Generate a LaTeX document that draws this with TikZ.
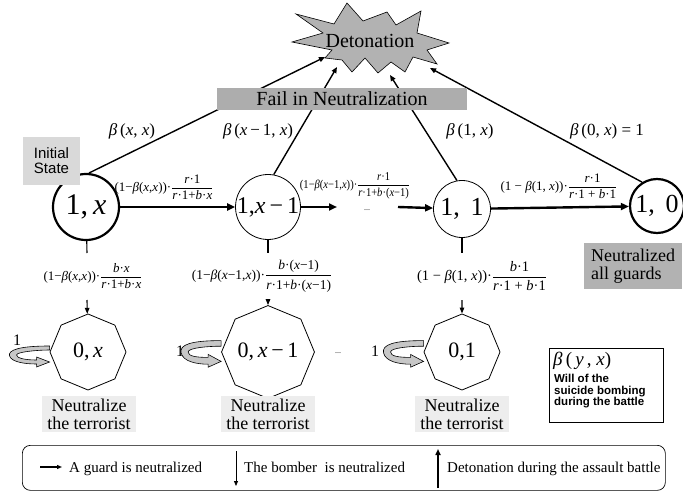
\documentclass[tikz,border=0pt]{standalone}
\usepackage{fontspec}
\setmainfont{Liberation Serif}
\setsansfont{Liberation Sans}
\usetikzlibrary{arrows.meta,shapes.geometric,calc}
\newcommand\fr[2]{$\displaystyle\frac{\hbox{#1}}{\hbox{#2}}$}
\newcommand\mi[1]{\textit{#1}}
\newcommand\fs[1]{\fontsize{#1}{#1}\selectfont}
\begin{document}
\begin{tikzpicture}[x=1pt,y=-1pt,
  state/.style={circle,draw,fill=white,inner sep=0pt,line width=0.8pt},
  bigstate/.style={state,line width=2.2pt},
  octa/.style={regular polygon,regular polygon sides=8,shape border rotate=22.5,draw,fill=white,minimum size=76pt,inner sep=0pt,line width=0.8pt},
  tostar/.style={line width=1.4pt,-{Triangle[length=6pt,width=5pt]}},
  hor/.style={line width=2.4pt,-{Triangle[length=8pt,width=7pt]}},
  down/.style={line width=1.1pt,-{Triangle[length=6pt,width=4.5pt]}},
  lab/.style={inner sep=0pt,font=\fs{13}},
  blab/.style={inner sep=0pt,font=\fs{17}},
  neut/.style={fill=black!7,inner xsep=5pt,inner ysep=3pt,align=center,font=\fs{18}},
  loopar/.style={fill=black!22,draw=black,line width=0.6pt},
  keyt/.style={anchor=base west,inner sep=0pt,font=\fs{15}}]
\useasboundingbox (0,0) rectangle (683,492);

% star
\draw[fill=black!30,line width=0.6pt] (292,42) -- (323,33) -- (296,14) -- (334,24) -- (347,3) -- (363,21) -- (387,12) -- (396,25) -- (421,11) -- (417,33) -- (449,43) -- (427,50) -- (437,64) -- (413,57) -- (405,72) -- (391,62) -- (378,73) -- (365,58) -- (352,72) -- (342,60) -- (325,58) -- (332,50) -- cycle;
\node[inner sep=0pt,font=\fs{20}] (det) at (370,41) {Detonation};
\coordinate (d1) at (325,57);
\coordinate (d2) at (337,67);
\coordinate (d3) at (390,75);
\coordinate (d4) at (430,68);

% states
\node[bigstate,minimum size=66pt] (s1) at (86,207) {\fs{30}1,\,\mi{x}};
\node[state,minimum size=60pt] (s2) at (268,207) {\fs{24}1,\mi{x}\,−\,1};
\node[state,minimum size=57pt] (s3) at (462,209) {\fs{26}1,\, 1};
\node[bigstate,minimum size=54pt] (s4) at (657,206) {\fs{26}1,\, 0};
\node[fill=black!15,inner sep=0pt,minimum width=57pt,minimum height=48pt,align=left,font=\sffamily\fs{15}] (init) at (51.5,161) {Initial\\State};

% lines to detonation
\draw[tostar] (s1.85) -- (d1);
\draw[tostar] (s2.80) -- (d2);
\draw[tostar] (s3.100) -- (d3);
\draw[tostar] (s4.122) -- (d4);
\node[fill=black!32,minimum width=250pt,minimum height=22pt,inner sep=0pt,font=\fs{20}] (fail) at (342,99) {Fail in Neutralization};

\node[blab] (b1) at (132,131) {\mi{β}\,(\mi{x}, \mi{x})};
\node[blab] (b2) at (258,131) {\mi{β}\,(\mi{x}\,−\,1, \mi{x})};
\node[blab] (b3) at (470,131) {\mi{β}\,(1, \mi{x})};
\node[blab] (b4) at (607,131) {\mi{β}\,(0, \mi{x}) = 1};

% horizontal transitions
\coordinate (m1) at (337,207);
\coordinate (m2) at (398,207);
\draw[hor] (s1) -- (s2);
\draw[hor] (s2) -- (m1);
\draw[hor] (m2) -- (s3);
\draw[hor] (s3) -- (s4);
\node[lab] (l1) at (164,187) {(1−\mi{β}(\mi{x},\mi{x}))·\fr{\mi{r}·1}{\mi{r}·1+\mi{b}·\mi{x}}};
\node[lab,font=\fs{12},xscale=0.88] (l2) at (355,186) {(1−\mi{β}(\mi{x}−1,\mi{x}))·\fr{\mi{r}·1}{\mi{r}·1+\mi{b}·(\mi{x}−1)}};
\node[inner sep=0pt,font=\fs{8}] (dots1) at (367,210) {...};
\node[lab] (l3) at (559,186) {(1 − \mi{β}(1, \mi{x}))·\fr{\mi{r}·1}{\mi{r}·1 + \mi{b}·1}};

% octagons
\node[octa] (o1) at (88,352) {\fs{22}0,\,\mi{x}};
\node[octa] (o2) at (268,352) {\fs{22}0,\,\mi{x}\,−\,1};
\node[octa] (o3) at (462,352) {\fs{22}0,1};
\node[inner sep=0pt,font=\fs{8}] (dots2) at (338,353) {...};

% vertical transitions
\foreach \s/\o/\lb/\x in {s1/o1/v1/87,s2/o2/v2/268,s3/o3/v3/462}{
  \coordinate (\lb a) at (\x,253);
  \coordinate (\lb b) at (\x,300);
  \draw[line width=1.1pt] (\s) -- (\lb a);
  \draw[down] (\lb b) -- (\o);
}
\node[lab] (l4) at (93,276) {(1−\mi{β}(\mi{x},\mi{x}))·\fr{\mi{b}·\mi{x}}{\mi{r}·1+\mi{b}·\mi{x}}};
\node[lab,font=\fs{13.5}] (l5) at (262,276) {(1−\mi{β}(\mi{x}−1,\mi{x}))·\fr{\mi{b}·(\mi{x}−1)}{\mi{r}·1+\mi{b}·(\mi{x}−1)}};
\node[lab,font=\fs{14.5}] (l6) at (482,276) {(1 − \mi{β}(1, \mi{x}))·\fr{\mi{b}·1}{\mi{r}·1 + \mi{b}·1}};

% self loops
\foreach \o/\k/\c in {o1/1/0,o2/1.4/-3,o3/1.4/-3}{
  \path (\o.west) ++(0,\c) coordinate (L);
  \draw[loopar] ($(L)+(0,-6*\k)$) .. controls +(-30,0) and +(-2,-6*\k) .. ($(L)+(-40,4)$) .. controls +(2,6*\k) and +(-12,0) .. ($(L)+(-13,4+8*\k)$) -- ++(0,3) -- ($(L)+(0,4+6*\k)$) -- ($(L)+(-13,4+\k)$) -- ++(0,3) .. controls +(-12,0) and +(0,3*\k) .. ($(L)+(-33,3)$) .. controls +(0,-3*\k) and +(-13,0) .. ($(L)+(0,-2*\k)$) -- cycle;
}
\node[inner sep=0pt,font=\fs{16}] (one1) at (17,340) {1};
\node[inner sep=0pt,font=\fs{16}] (one2) at (180,351) {1};
\node[inner sep=0pt,font=\fs{16}] (one3) at (375,351) {1};

\node[neut] (n1) at (89,414) {Neutralize\\the terrorist};
\node[neut] (n2) at (268,414) {Neutralize\\the terrorist};
\node[neut] (n3) at (462,414) {Neutralize\\the terrorist};

\node[fill=black!30,minimum width=98pt,minimum height=46pt,inner sep=3pt,align=left,anchor=north west,font=\fs{18}] (allg) at (584,243) {Neutralized\\all guards};

% legend
\node[draw,line width=1.1pt,minimum width=114pt,minimum height=74pt,anchor=north west] (leg) at (549,348) {};
\node[anchor=north west,inner sep=0pt,font=\fs{19}] (legb) at (553,352) {\mi{β}\,(\,\mi{y}\,, \mi{x})};
\node[anchor=north west,inner sep=0pt,align=left,font=\sffamily\bfseries\fs{11.5}] (legt) at (554,374) {Will of the\\suicide bombing\\during the battle};

\node[draw,rounded corners=8pt,line width=0.7pt,minimum width=643pt,minimum height=45pt,anchor=north west] (key) at (22,445) {};
\coordinate (k1a) at (40,467);
\coordinate (k1b) at (62,467);
\draw[line width=1.2pt,-{Triangle[length=5pt,width=4pt]}] (k1a) -- (k1b);
\node[keyt] (kt1) at (69,472) {A guard is neutralized};
\coordinate (k2a) at (236,451);
\coordinate (k2b) at (236,486);
\draw[line width=0.8pt,-{Triangle[length=5pt,width=4pt]}] (k2a) -- (k2b);
\node[keyt] (kt2) at (244,472) {The bomber\ \ is neutralized};
\coordinate (k3a) at (438,488);
\coordinate (k3b) at (438,449);
\draw[line width=1.6pt,-{Triangle[length=6pt,width=5pt]}] (k3a) -- (k3b);
\node[keyt] (kt3) at (447,472) {Detonation during the assault battle};
\end{tikzpicture}
\end{document}
